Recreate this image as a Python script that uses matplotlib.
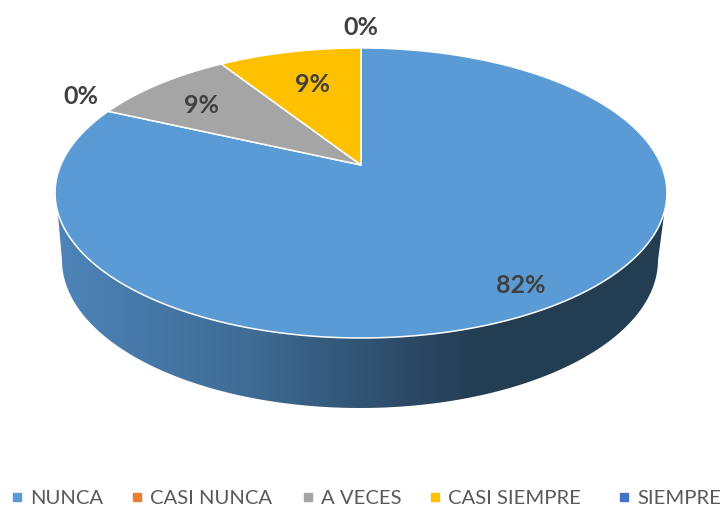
import matplotlib
matplotlib.use('Agg')
import matplotlib.pyplot as plt
from matplotlib.colors import LinearSegmentedColormap
from matplotlib.patches import Polygon
import numpy as np

categories = ['NUNCA', 'CASI NUNCA', 'A VECES', 'CASI SIEMPRE', 'SIEMPRE']
percents = [81.82, 0, 9.09, 9.09, 0]
colors = ['#5B9BD5', '#ED7D31', '#A5A5A5', '#FFC000', '#4472C4']

# where each label sits: fraction of the pie radius, then a nudge in pixels
label_radius = [0.86, 1.12, 0.75, 0.66, 1.22]
label_nudge = [(-2, 3), (0, -9), (-4, 3), (1, -2), (0, 0)]

# legend entries are spaced by hand, the spacing is not even in the original
legend_x = [17, 137, 308, 435, 624]
legend_y = 497

plt.rcParams['font.family'] = ['Lato', 'DejaVu Sans']

# the pie top is a tilted circle: apex and perspective
cx, cy = 361, 165
a, b, k = 300.2, 139.6, 0.193


def project(theta, r=1.0):
    w = 1 + k * r * np.cos(theta)
    return cx + a * r * np.sin(theta) / w, cy - b * r * np.cos(theta) / w


fig = plt.figure(figsize=(7.24, 5.07), dpi=100)
ax = fig.add_axes([0, 0, 1, 1])

# side wall, lower half of the bottom ellipse closed up to the top ellipse
t = np.linspace(np.pi, 0, 200)
side_x = list(360 + 298 * np.cos(t)) + [664, 58]
side_y = list(260 + 148 * np.sin(t)) + [215, 215]
side_cmap = LinearSegmentedColormap.from_list('side', [
    (0.0, '#4e84b8'), (0.15, '#4678a8'), (0.32, '#3f6b94'), (0.47, '#335878'),
    (0.57, '#2d4a68'), (0.68, '#243e54'), (1.0, '#233d52')])
grad = ax.imshow(np.linspace(0, 1, 256).reshape(1, -1), cmap=side_cmap, aspect='auto',
                 extent=[56, 666, 408, 215])
clip = Polygon(np.column_stack([side_x, side_y]), transform=ax.transData, fc='none', ec='none')
ax.add_patch(clip)
grad.set_clip_path(clip)

# top slices, clockwise from 12 o'clock
start = 0.0
for pct, color, rad, nudge in zip(percents, colors, label_radius, label_nudge):
    sweep = 2 * np.pi * pct / sum(percents)
    if pct > 0:
        th = np.linspace(start, start + sweep, 200)
        x, y = project(th)
        ax.fill(np.r_[cx, x], np.r_[cy, y], fc=color, ec='white', lw=1.1, joinstyle='round')
    lx, ly = project(start + sweep / 2, rad)
    ax.text(lx + nudge[0], ly + nudge[1], f'{pct:.0f}%', ha='center', va='center', fontsize=18,
            fontweight='bold', color='#404040')
    start += sweep

for lx, color, name in zip(legend_x, colors, categories):
    ax.plot([lx], [legend_y], ls='none', marker='s', ms=5.5, color=color)
    ax.text(lx + 13, legend_y + 1.5, name, ha='left', va='center', fontsize=14.6, color='#595959')

ax.set_xlim(0, 724)
ax.set_ylim(507, 0)
ax.axis('off')

fig.savefig('out.png', dpi=100)
